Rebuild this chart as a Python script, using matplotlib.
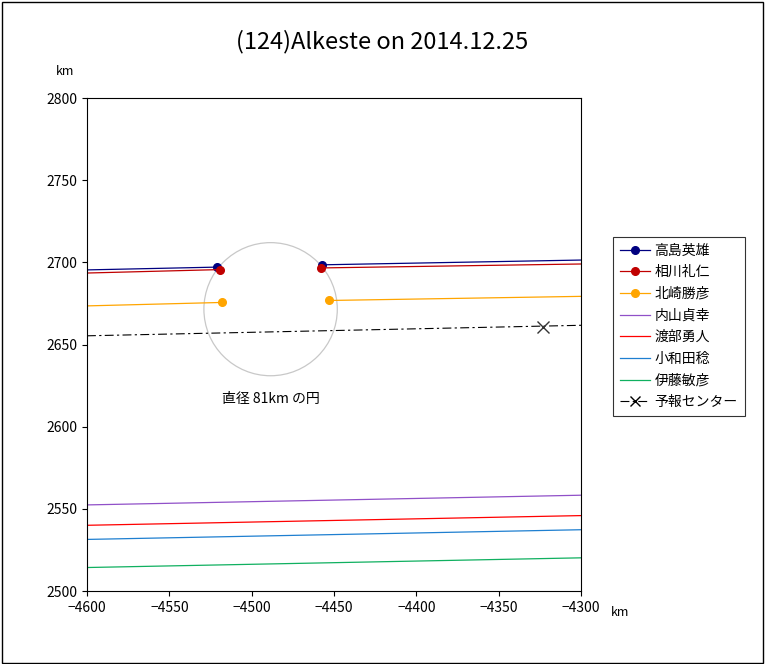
import matplotlib
matplotlib.use("Agg")
import matplotlib.pyplot as plt
from matplotlib.patches import Circle, Rectangle

plt.rcParams['font.family'] = ['Noto Sans CJK JP']

names = ["高島英雄", "相川礼仁", "北崎勝彦", "内山貞幸", "渡部勇人", "小和田稔", "伊藤敏彦", "予報センター"]
colors = ["#000080", "#C00000", "#FFA500", "#9050C8", "#FF0000", "#1E7FD0", "#10B060", "#000000"]
# chord segments: (x0, y0, x1, y1) pairs per observer
seg_a_x = [[-4600, -4521], [-4600, -4519], [-4600, -4518]]
seg_a_y = [[2695.4, 2697.1], [2693.5, 2695.6], [2673.5, 2675.6]]
seg_b_x = [[-4457, -4300], [-4458, -4300], [-4453, -4300]]
seg_b_y = [[2698.5, 2701.4], [2696.6, 2699.0], [2676.8, 2679.3]]
miss_x = [-4600, -4300]
miss_y = [[2552.4, 2558.3], [2540.0, 2545.9], [2531.4, 2537.3], [2514.3, 2520.2]]
pred_x = [-4600, -4300]
pred_y = [2655.3, 2661.7]
pred_mark = (-4323, 2660.9)
circ_center = (-4488.5, 2671.5)
circ_diam = 81

fig = plt.figure(figsize=(7.65, 6.64), dpi=100)
fig.patches.append(Rectangle((0.002, 0.002), 0.995, 0.995, transform=fig.transFigure,
                             fill=False, edgecolor='black', lw=1))
ax = fig.add_axes([0.1137, 0.1099, 0.6458, 0.7425])

ax.add_patch(Circle(circ_center, circ_diam / 2, fill=False, edgecolor='#C8C8C8', lw=0.9))
ax.text(circ_center[0], 2617, "直径 81km の円", ha='center', va='center', fontsize=10)

handles = []
for i in range(3):
    c = colors[i]
    ax.plot(seg_a_x[i], seg_a_y[i], color=c, lw=0.9)
    ax.plot(seg_b_x[i], seg_b_y[i], color=c, lw=0.9)
    ax.plot([seg_a_x[i][1], seg_b_x[i][0]], [seg_a_y[i][1], seg_b_y[i][0]], 'o', color=c, ms=5.5)
    h, = ax.plot([], [], '-o', color=c, lw=0.9, ms=5.5)
    handles.append(h)
for j in range(4):
    h, = ax.plot(miss_x, miss_y[j], color=colors[3 + j], lw=0.9)
    handles.append(h)
ax.plot(pred_x, pred_y, color='black', lw=0.8, dashes=[8, 3, 2, 3])
ax.plot([pred_mark[0]], [pred_mark[1]], 'x', color='#333333', ms=8, mew=1)
h, = ax.plot([], [], color='black', lw=0.8, dashes=[8, 3, 2, 3], marker='x', ms=7)
handles.append(h)

ax.set_xlim(-4600, -4300)
ax.set_ylim(2500, 2800)
ax.set_xticks(range(-4600, -4299, 50))
ax.set_yticks(range(2500, 2801, 50))
ax.tick_params(direction='out', labelsize=10)

fig.text(0.5, 0.937, "(124)Alkeste on 2014.12.25", ha='center', va='center', fontsize=17)
fig.text(0.085, 0.892, "km", ha='center', va='center', fontsize=9)
fig.text(0.811, 0.078, "km", ha='center', va='center', fontsize=9)

leg = fig.legend(handles, names, loc='upper left', bbox_to_anchor=(0.792, 0.654),
                 frameon=True, fancybox=False, edgecolor='black', fontsize=10,
                 handlelength=2.2, borderpad=0.5, labelspacing=0.55, handletextpad=0.3)
leg.get_frame().set_linewidth(0.8)

fig.savefig("out.png", dpi=100)
